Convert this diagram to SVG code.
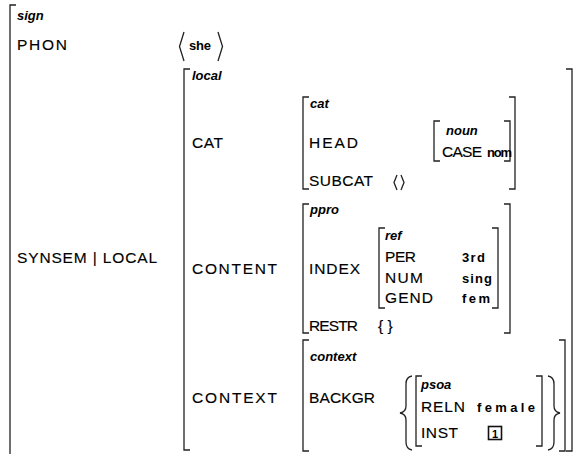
<svg xmlns="http://www.w3.org/2000/svg" width="578" height="454" viewBox="0 0 578 454">
  <style>
    text { font-family: "Liberation Sans", "DejaVu Sans", sans-serif; fill: #000; }
    .a { font-size: 15.5px; stroke: #000; stroke-width: 0.15; }
    .t { font-size: 13px; font-weight: bold; font-style: italic; }
    .v { font-size: 13px; font-weight: bold; }
    .br { fill: none; stroke: #222; stroke-width: 1.3; }
    .box { fill: none; stroke: #111; stroke-width: 1.6; }
  </style>
  <rect width="578" height="454" fill="#fff"/>

  <!-- outer sign matrix -->
  <g id="sign">
    <path class="br" d="M16,5 H10 V456"/>
    <text class="t" x="17" y="20">sign</text>
    <text class="a" x="17" y="50" textLength="50" lengthAdjust="spacing">PHON</text>
    <path class="br" d="M184,32 L179.5,46.5 L184,61"/>
    <text class="v" x="189" y="50" textLength="22" lengthAdjust="spacing">she</text>
    <path class="br" d="M218,32 L222.5,46.5 L218,61"/>
    <text class="a" x="17" y="263" textLength="140" lengthAdjust="spacing">SYNSEM | LOCAL</text>
  </g>

  <!-- local matrix -->
  <g id="local">
    <path class="br" d="M190,69 H184 V450 H190"/>
    <path class="br" d="M566,69 H572 V451 H566"/>
    <text class="t" x="192" y="80">local</text>
    <text class="a" x="192" y="148" textLength="31" lengthAdjust="spacing">CAT</text>
    <text class="a" x="192" y="274" textLength="85" lengthAdjust="spacing">CONTENT</text>
    <text class="a" x="192" y="403" textLength="85" lengthAdjust="spacing">CONTEXT</text>
  </g>

  <!-- cat matrix -->
  <g id="cat">
    <path class="br" d="M309,97 H303 V189 H309"/>
    <path class="br" d="M509,97 H515 V189 H509"/>
    <text class="t" x="310" y="108">cat</text>
    <text class="a" x="309" y="148" textLength="49" lengthAdjust="spacing">HEAD</text>
    <text class="a" x="309" y="186" textLength="64" lengthAdjust="spacing">SUBCAT</text>
    <path class="br" d="M397,175 L394,182.5 L397,190 M401,175 L404,182.5 L401,190"/>
  </g>

  <!-- noun matrix -->
  <g id="noun">
    <path class="br" d="M440,121 H434 V161 H440"/>
    <path class="br" d="M504,121 H510 V161 H504"/>
    <text class="t" x="446" y="135">noun</text>
    <text class="a" x="442" y="157" textLength="40" lengthAdjust="spacing">CASE</text>
    <text class="v" x="487" y="157" textLength="25" lengthAdjust="spacing">nom</text>
  </g>

  <!-- ppro matrix -->
  <g id="ppro">
    <path class="br" d="M309,204 H303 V333 H309"/>
    <path class="br" d="M504,204 H510 V333 H504"/>
    <text class="t" x="310" y="214">ppro</text>
    <text class="a" x="309" y="274" textLength="51" lengthAdjust="spacing">INDEX</text>
    <text class="a" x="309" y="331" textLength="49" lengthAdjust="spacing">RESTR</text>
    <text class="a" x="378" y="331">{ }</text>
  </g>

  <!-- ref matrix -->
  <g id="ref">
    <path class="br" d="M385,228 H379 V308 H385"/>
    <path class="br" d="M492,228 H498 V308 H492"/>
    <text class="t" x="385" y="240">ref</text>
    <text class="a" x="385" y="262" textLength="31" lengthAdjust="spacing">PER</text>
    <text class="v" x="462" y="262" textLength="23" lengthAdjust="spacing">3rd</text>
    <text class="a" x="385" y="283" textLength="38" lengthAdjust="spacing">NUM</text>
    <text class="v" x="462" y="283" textLength="30" lengthAdjust="spacing">sing</text>
    <text class="a" x="385" y="303" textLength="48" lengthAdjust="spacing">GEND</text>
    <text class="v" x="462" y="303" textLength="28" lengthAdjust="spacing">fem</text>
  </g>

  <!-- context matrix -->
  <g id="context">
    <path class="br" d="M309,340 H303 V451 H309"/>
    <path class="br" d="M559,340 H565 V451 H559"/>
    <text class="t" x="310" y="361">context</text>
    <text class="a" x="309" y="403" textLength="66" lengthAdjust="spacing">BACKGR</text>
    <!-- set braces -->
    <path class="br" d="M412,376 Q406,377 406,384 V406 Q406,412 400,413 Q406,414 406,420 V442 Q406,449 412,450"/>
    <path class="br" d="M548,376 Q554,377 554,384 V406 Q554,412 560,413 Q554,414 554,420 V442 Q554,449 548,450"/>
  </g>

  <!-- psoa matrix -->
  <g id="psoa">
    <path class="br" d="M422,376 H416 V446 H422"/>
    <path class="br" d="M536,376 H542 V446 H536"/>
    <text class="t" x="421" y="389">psoa</text>
    <text class="a" x="421" y="412" textLength="44" lengthAdjust="spacing">RELN</text>
    <text class="v" x="477" y="412" textLength="58" lengthAdjust="spacing">female</text>
    <text class="a" x="421" y="438" textLength="37" lengthAdjust="spacing">INST</text>
    <rect class="box" x="488.5" y="426.5" width="13" height="13"/>
    <text class="v" x="495" y="437.5" text-anchor="middle" style="font-size:11px">1</text>
  </g>
</svg>
